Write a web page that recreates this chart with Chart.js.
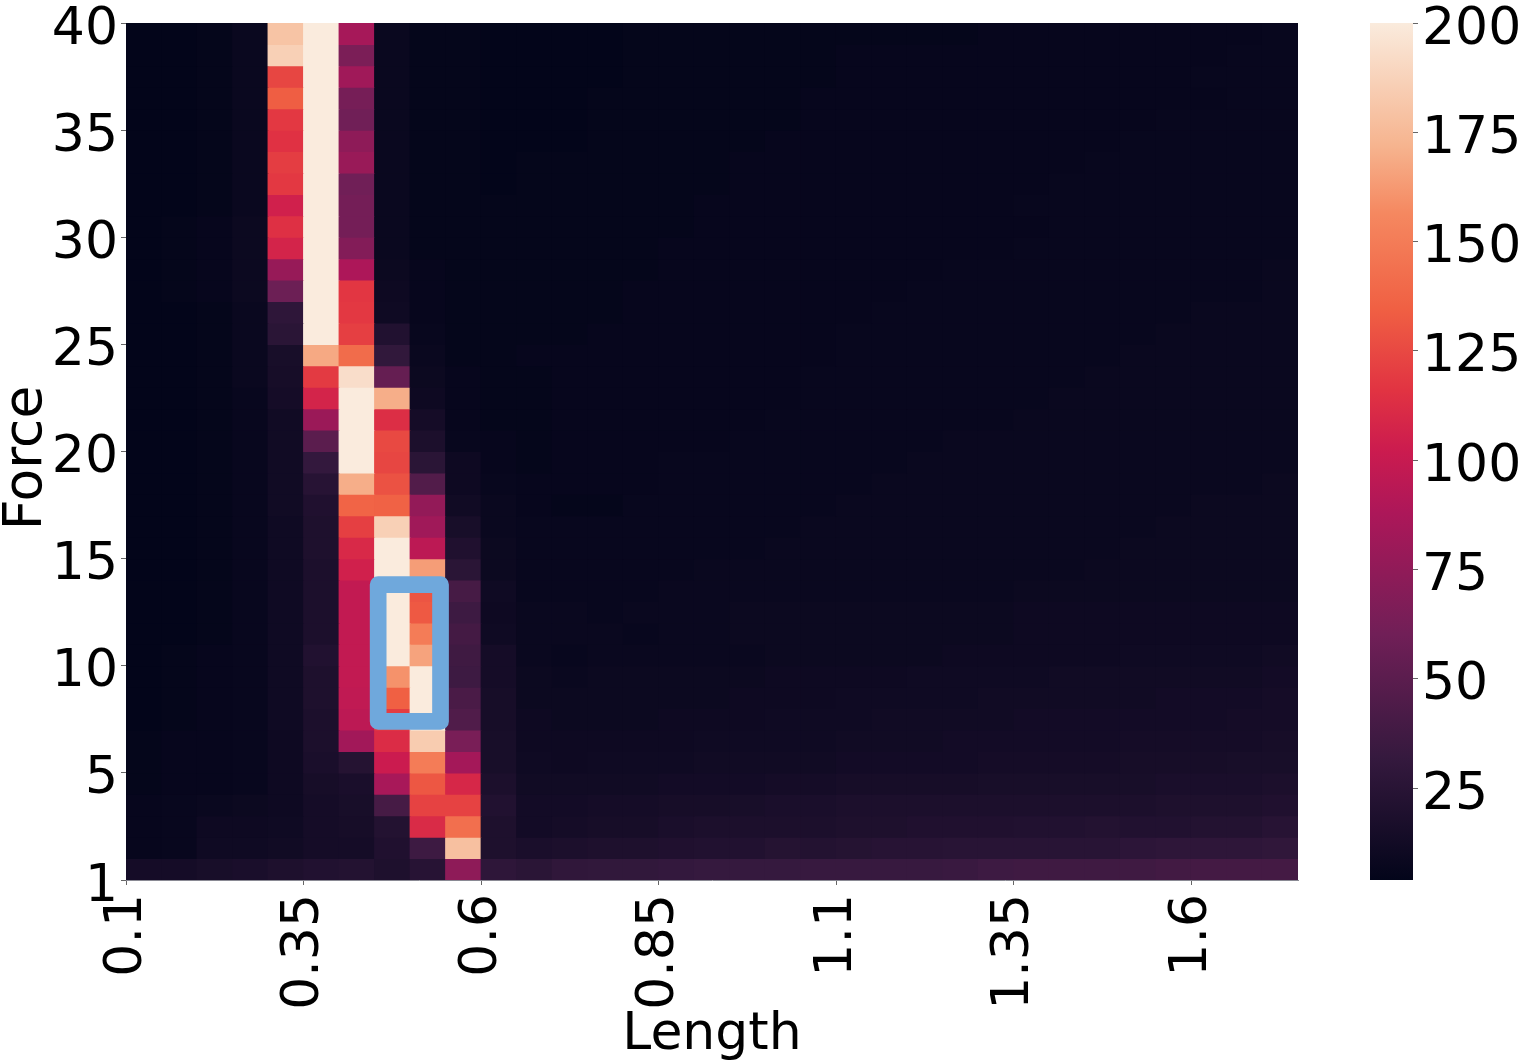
<!DOCTYPE html>
<html>
<head>
<meta charset="utf-8">
<title>Force / Length heatmap</title>
<script src="https://cdn.jsdelivr.net/npm/chart.js@4"></script>
<style>
  html, body { margin: 0; padding: 0; background: #fff; overflow: hidden; }
  canvas { position: absolute; left: 0; top: 0; }
</style>
</head>
<body>
<canvas id="heat" width="1519" height="1061"></canvas>
<canvas id="cbar" width="1519" height="1061"></canvas>
<script>
// columns: Length 0.1 .. 1.7 (step 0.05)
const lengths = ['0.1','0.15','0.2','0.25','0.3','0.35','0.4','0.45','0.5','0.55','0.6','0.65','0.7','0.75','0.8','0.85','0.9','0.95','1.0','1.05','1.1','1.15','1.2','1.25','1.3','1.35','1.4','1.45','1.5','1.55','1.6','1.65','1.7']

const xTickIdx    = [0, 5, 10, 15, 20, 25, 30]
const xTickLabels = ['0.1', '0.35', '0.6', '0.85', '1.1', '1.35', '1.6']
const yTickVals   = [0, 5, 10, 15, 20, 25, 30, 35, 40]
const yTickLabels = ['1', '5', '10', '15', '20', '25', '30', '35', '40']
const cbarTicks   = [25, 50, 75, 100, 125, 150, 175, 200]
const cbarRange   = [4, 200]

// highlighted region, in cell units (col, row from the bottom)
const boxCols = [7.10, 8.856]
const boxRows = [7.40, 13.79]

// rows run top (Force 40) to bottom (Force 1)
const cells = [
  [4,4,5,8,180,200,85,8,5,5,4,4,4,4,5,5,5,5,5,5,5,5,5,5,6,6,6,6,6,6,6,6,7],
  [4,4,5,8,186,200,65,8,5,5,4,4,4,4,5,5,5,5,5,5,6,6,6,6,6,6,6,6,6,6,6,7,7],
  [4,4,5,8,124,200,82,8,5,5,4,4,4,4,5,5,5,5,5,5,6,6,6,6,6,6,6,6,6,6,7,7,7],
  [4,4,5,8,134,200,63,8,5,5,4,4,4,5,5,5,5,5,5,6,6,6,6,6,6,6,6,6,6,6,6,7,7],
  [4,4,5,8,118,200,60,8,5,5,4,4,4,5,5,5,5,5,5,6,6,6,6,6,6,6,6,6,6,7,7,7,7],
  [4,4,5,8,115,200,74,8,5,5,4,4,4,5,5,5,5,5,6,6,6,6,6,6,6,6,6,6,7,7,7,7,7],
  [4,4,5,8,120,200,79,8,5,5,4,5,5,5,5,5,5,6,6,6,6,6,6,6,6,6,6,7,7,7,7,7,7],
  [4,4,5,8,118,200,60,8,5,5,4,5,5,5,5,5,5,6,6,6,6,6,6,6,6,6,7,7,7,7,7,7,7],
  [4,4,5,8,105,200,62,8,5,5,5,5,5,5,5,5,6,6,6,6,6,6,6,6,6,7,7,7,7,7,7,7,7],
  [4,5,6,9,114,200,62,8,5,5,5,5,5,5,5,5,6,6,6,6,6,6,6,6,6,6,7,7,7,7,7,7,7],
  [4,5,6,9,107,200,69,8,5,5,5,5,5,5,5,6,6,6,6,6,6,6,6,6,6,7,7,7,7,7,7,7,7],
  [4,5,6,9,78,200,88,9,6,5,5,5,5,5,5,6,6,6,6,6,6,6,6,7,7,7,7,7,7,7,7,7,8],
  [4,5,6,9,58,200,117,10,6,5,5,5,5,5,6,6,6,6,6,6,6,6,7,7,7,7,7,7,7,7,7,7,8],
  [4,4,5,8,28,200,118,11,6,5,5,5,5,5,6,6,6,6,6,6,6,7,7,7,7,7,7,7,7,7,8,8,8],
  [4,4,5,8,26,200,121,21,7,5,5,5,5,6,6,6,6,6,6,6,7,7,7,7,7,7,7,7,7,8,8,8,8],
  [4,4,5,8,16,168,141,30,8,5,5,6,6,6,6,6,6,6,6,6,7,7,7,7,7,7,7,7,8,8,8,8,8],
  [4,4,5,8,15,119,193,55,9,6,5,5,6,6,6,6,6,6,6,7,7,7,7,7,7,7,7,8,8,8,8,8,8],
  [4,4,5,7,14,107,200,170,10,6,5,5,6,6,6,6,6,6,6,7,7,7,7,7,7,7,8,8,8,8,8,8,8],
  [4,4,5,7,12,80,200,113,14,6,5,5,6,6,6,6,6,6,7,7,7,7,7,7,7,8,8,8,8,8,8,8,8],
  [4,4,5,7,12,50,200,125,18,7,6,5,6,6,6,6,6,7,7,7,7,7,7,8,8,8,8,8,8,8,8,8,8],
  [4,4,5,7,12,31,200,124,26,10,6,5,6,6,6,7,7,7,7,7,7,7,8,8,8,8,8,8,8,8,8,8,8],
  [4,4,5,7,12,24,170,129,46,10,7,6,6,6,6,7,7,7,7,7,7,8,8,8,8,8,8,8,8,8,8,8,9],
  [4,4,5,7,12,20,137,136,76,12,8,6,5,5,7,7,7,7,7,7,8,8,8,8,8,8,8,8,8,8,9,9,9],
  [4,4,5,7,11,19,121,186,82,16,8,7,7,7,7,7,7,7,7,8,8,8,8,8,8,8,8,8,8,9,9,9,9],
  [4,4,5,7,11,19,110,200,95,20,9,7,7,7,7,7,7,7,8,8,8,8,8,8,8,8,8,8,9,9,9,9,9],
  [4,4,5,7,11,18,105,200,164,26,9,7,7,7,7,7,8,8,8,8,8,8,8,8,8,8,8,9,9,9,9,9,9],
  [4,4,5,7,11,18,98,200,130,40,11,7,7,7,7,8,8,8,8,8,8,8,8,8,8,9,9,9,9,9,9,9,9],
  [4,4,5,7,11,18,98,200,132,36,10,8,8,7,8,8,8,9,9,9,9,9,9,9,9,10,10,10,10,10,10,10,10],
  [4,4,5,7,11,18,98,200,150,39,11,8,8,8,7,8,8,9,9,9,9,9,9,9,9,10,10,10,10,10,10,10,10],
  [4,5,6,7,11,21,98,200,166,37,14,8,7,8,8,8,8,8,9,9,9,9,9,10,10,10,10,10,11,11,11,11,12],
  [4,5,6,7,11,19,98,160,200,36,14,9,8,9,9,9,9,9,10,10,10,10,11,11,11,11,12,12,12,12,12,12,13],
  [4,5,6,7,11,19,97,135,200,42,15,9,9,9,9,9,9,10,10,10,11,11,11,11,12,12,12,12,12,13,13,13,14],
  [4,5,6,7,11,18,95,120,200,45,15,10,9,9,9,10,10,10,11,11,11,12,12,12,12,13,13,13,13,13,13,14,14],
  [5,6,6,7,10,18,83,112,184,64,16,10,10,10,10,10,11,11,11,11,12,12,12,13,13,13,13,13,14,14,14,14,15],
  [5,6,6,7,10,17,23,102,150,84,16,11,10,11,11,11,12,12,12,12,13,13,13,13,14,14,14,14,15,15,15,16,16],
  [5,6,6,7,10,15,17,86,131,109,18,12,12,12,12,13,13,13,14,14,15,15,15,15,16,16,16,16,16,17,17,17,18],
  [6,7,8,9,10,14,16,40,122,122,21,13,13,14,14,15,15,16,17,17,18,18,18,18,18,18,18,18,18,19,19,19,20],
  [6,7,10,10,11,14,15,22,111,143,19,13,14,15,15,17,18,18,18,18,19,19,20,20,20,21,21,22,21,21,22,22,24],
  [6,7,11,11,12,14,14,20,36,178,19,17,18,19,19,20,21,21,23,22,23,24,24,25,25,25,25,25,27,28,28,28,29],
  [14,14,16,17,19,21,22,19,24,74,28,26,29,30,30,31,32,32,32,33,33,33,33,34,36,37,37,37,37,38,39,39,39]
]

// seaborn "rocket", [position, colour]
const rocketStops = [
  [0, '#03051a'], [0.143, '#35193e'], [0.286, '#701f57'], [0.429, '#ad1759'], [0.5, '#cb1b4f'],
  [0.571, '#e13342'], [0.667, '#f06043'], [0.778, '#f58860'], [0.857, '#f6b48f'], [1, '#faebdd']
]

function _hex(h) {
  return [1, 3, 5].map(i => parseInt(h.slice(i, i + 2), 16))
}

function rocket(v) {
  const t = Math.min(1, Math.max(0, (v - cbarRange[0]) / (cbarRange[1] - cbarRange[0])))
  let i = 0
  while (i < rocketStops.length - 2 && t > rocketStops[i + 1][0]) i++
  const [p0, c0] = rocketStops[i], [p1, c1] = rocketStops[i + 1]
  const a = _hex(c0), b = _hex(c1), f = (t - p0) / (p1 - p0)
  return `rgb(${a.map((c, k) => Math.round(c + (b[k] - c) * f)).join(',')})`
}

const FONT = 'DejaVu Sans'
const TICK_SIZE = 52

// fixes the axis box, and drops the room chart.js keeps for the end labels
function fixBox(prop, size) {
  return scale => {
    scale[prop] = size
    scale.paddingTop = scale.paddingBottom = scale.paddingLeft = scale.paddingRight = 0
  }
}

// ── HEATMAP ───────────────────────────────────────────────────────────────────

const boxPlugin = {
  id: 'highlight-box',
  afterDatasetsDraw(chart) {
    const { ctx, scales: { xt, y } } = chart
    const x0 = xt.getPixelForValue(boxCols[0]), x1 = xt.getPixelForValue(boxCols[1])
    const y0 = y.getPixelForValue(boxRows[1]),  y1 = y.getPixelForValue(boxRows[0])
    ctx.save()
    ctx.strokeStyle = '#6fa8dc'
    ctx.lineWidth = 16.7
    ctx.lineJoin = 'round'
    ctx.strokeRect(x0, y0, x1 - x0, y1 - y0)
    ctx.restore()
  }
}

// the y title sits a little below the middle of the axis, which scale titles can't do
const forceTitle = {
  id: 'force-title',
  afterDraw(chart) {
    const { ctx } = chart
    ctx.save()
    ctx.translate(27, 458)
    ctx.rotate(-Math.PI / 2)
    ctx.textAlign = 'center'; ctx.textBaseline = 'middle'
    ctx.font = `53.5px "${FONT}"`; ctx.fillStyle = '#000'
    ctx.fillText('Force', 0, 0)
    ctx.restore()
  }
}

const rowDatasets = cells.map((row, r) => {
  const lo = cells.length - 1 - r
  return {
    data: row.map(() => [lo, lo + 1]),
    backgroundColor: row.map(rocket),
    borderWidth: 0,
    inflateAmount: 0.5,
    grouped: false,
    barPercentage: 1,
    categoryPercentage: 1
  }
})

new Chart(document.getElementById('heat'), {
  type: 'bar',
  plugins: [boxPlugin, forceTitle],
  data: { labels: lengths, datasets: rowDatasets },
  options: {
    responsive: false,
    animation: false,
    devicePixelRatio: 1,
    layout: { padding: { top: 23, right: 221, left: 0, bottom: 0 } },
    plugins: { legend: { display: false }, tooltip: { enabled: false } },
    scales: {
      x: { display: false },
      xt: {
        type: 'linear', position: 'bottom', min: 0, max: lengths.length,
        offset: false,
        afterBuildTicks: s => { s.ticks = xTickIdx.map(value => ({ value })) },
        afterFit: fixBox('height', 181),
        border: { color: '#8a8a94', width: 1 },
        grid: { offset: false, drawOnChartArea: false, tickLength: 5, tickColor: '#666', tickWidth: 1 },
        ticks: {
          autoSkip: false, maxRotation: 90, minRotation: 90, padding: 9, labelOffset: 1,
          color: '#000', font: { family: FONT, size: TICK_SIZE },
          callback: v => xTickLabels[xTickIdx.indexOf(v)]
        },
        title: {
          display: true, text: 'Length', color: '#000',
          font: { family: FONT, size: TICK_SIZE }, padding: { top: 0, bottom: -6 }
        }
      },
      y: {
        type: 'linear', min: 0, max: cells.length,
        afterBuildTicks: s => { s.ticks = yTickVals.map(value => ({ value })) },
        afterFit: fixBox('width', 126),
        border: { color: '#8a8a94', width: 1 },
        grid: { drawOnChartArea: false, tickLength: 5, tickColor: '#666', tickWidth: 1 },
        ticks: {
          autoSkip: false, padding: 3, labelOffset: 7,
          color: '#000', font: { family: FONT, size: TICK_SIZE },
          callback: v => yTickLabels[yTickVals.indexOf(v)]
        }
      }
    }
  }
})

// ── COLORBAR ──────────────────────────────────────────────────────────────────

function cbarFill(ctx) {
  const area = ctx.chart.chartArea
  if (!area) return rocketStops[0][1]
  const g = ctx.chart.ctx.createLinearGradient(0, area.bottom, 0, area.top)
  rocketStops.forEach(([p, c]) => g.addColorStop(p, c))
  return g
}

new Chart(document.getElementById('cbar'), {
  type: 'bar',
  data: { labels: [''], datasets: [{ data: [cbarRange], backgroundColor: cbarFill, borderWidth: 0, barPercentage: 1, categoryPercentage: 1 }] },
  options: {
    responsive: false,
    animation: false,
    devicePixelRatio: 1,
    layout: { padding: { top: 23, left: 1370, right: 0, bottom: 181 } },
    plugins: { legend: { display: false }, tooltip: { enabled: false } },
    scales: {
      x: { display: false },
      y: {
        position: 'right', min: cbarRange[0], max: cbarRange[1],
        afterBuildTicks: s => { s.ticks = cbarTicks.map(value => ({ value })) },
        afterFit: fixBox('width', 106),
        border: { display: false },
        grid: { drawOnChartArea: false, tickLength: 5, tickColor: '#666', tickWidth: 1 },
        ticks: { autoSkip: false, padding: 4, labelOffset: 7, color: '#000', font: { family: FONT, size: TICK_SIZE } }
      }
    }
  }
})
</script>
</body>
</html>
